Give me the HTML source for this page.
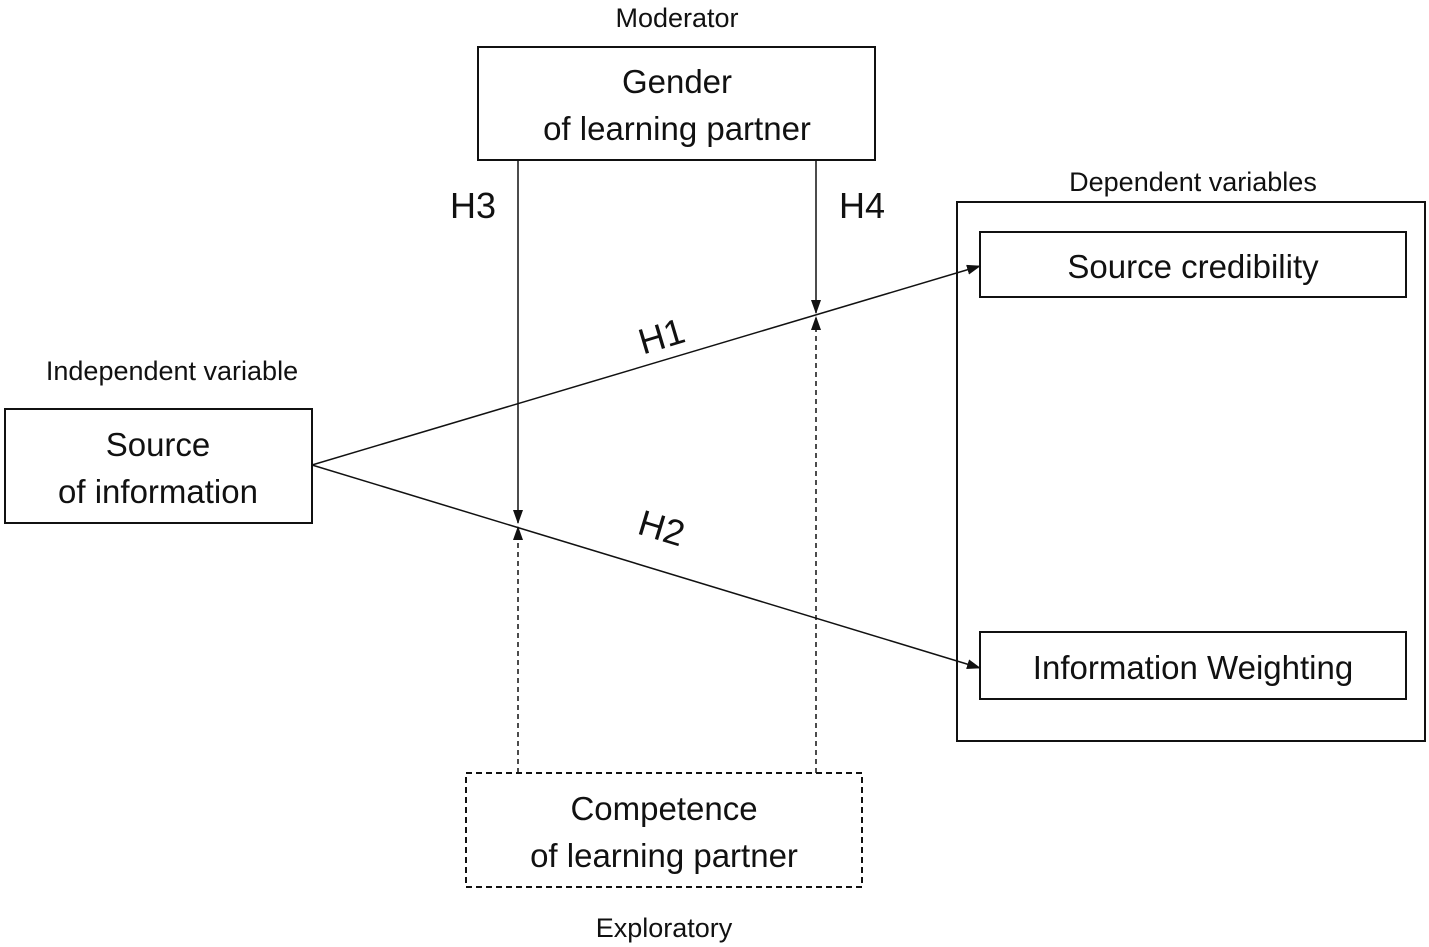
<!DOCTYPE html>
<html><head><meta charset="utf-8"><style>
html,body{margin:0;padding:0;background:#fff;}
svg{display:block;}
text{font-family:"Liberation Sans",Arial,sans-serif;fill:#111;}
</style></head><body>
<svg width="1429" height="947" viewBox="0 0 1429 947" xmlns="http://www.w3.org/2000/svg">
<defs>
<marker id="a" markerWidth="14" markerHeight="10" refX="13" refY="5" orient="auto" markerUnits="userSpaceOnUse">
<path d="M0,0 L14,5 L0,10 Z" fill="#111"/></marker>
</defs>
<g fill="none" stroke="#111" stroke-width="2">
<rect x="478" y="47" width="397" height="113"/>
<rect x="957" y="202" width="468" height="539"/>
<rect x="980" y="232" width="426" height="65"/>
<rect x="980" y="632" width="426" height="67"/>
<rect x="5" y="409" width="307" height="114"/>
<rect x="466" y="773" width="396" height="114" stroke-dasharray="6,4"/>
</g>
<g stroke="#111" stroke-width="1.5" fill="none">
<line x1="312" y1="465" x2="980" y2="266" marker-end="url(#a)"/>
<line x1="312" y1="465" x2="980" y2="668" marker-end="url(#a)"/>
<line x1="518" y1="160" x2="518" y2="523" marker-end="url(#a)"/>
<line x1="816" y1="160" x2="816" y2="313" marker-end="url(#a)"/>
<line x1="518" y1="773" x2="518" y2="527" stroke-dasharray="5,4" marker-end="url(#a)"/>
<line x1="816" y1="773" x2="816" y2="317" stroke-dasharray="5,4" marker-end="url(#a)"/>
</g>
<g text-anchor="middle">
<text x="677" y="27" font-size="27">Moderator</text>
<text x="677" y="93" font-size="33">Gender</text>
<text x="677" y="140" font-size="33">of learning partner</text>
<text x="473" y="218" font-size="36">H3</text>
<text x="862" y="218" font-size="36">H4</text>
<text x="1193" y="191" font-size="27">Dependent variables</text>
<text x="1193" y="278" font-size="33">Source credibility</text>
<text x="1193" y="679" font-size="33">Information Weighting</text>
<text x="172" y="380" font-size="27">Independent variable</text>
<text x="158" y="456" font-size="33">Source</text>
<text x="158" y="503" font-size="33">of information</text>
<text x="664" y="820" font-size="33">Competence</text>
<text x="664" y="867" font-size="33">of learning partner</text>
<text x="664" y="937" font-size="27">Exploratory</text>
<text x="0" y="0" font-size="36" transform="translate(665,348) rotate(-16.6)">H1</text>
<text x="0" y="0" font-size="36" transform="translate(658,540) rotate(16.9)">H2</text>
</g>
</svg>
</body></html>
